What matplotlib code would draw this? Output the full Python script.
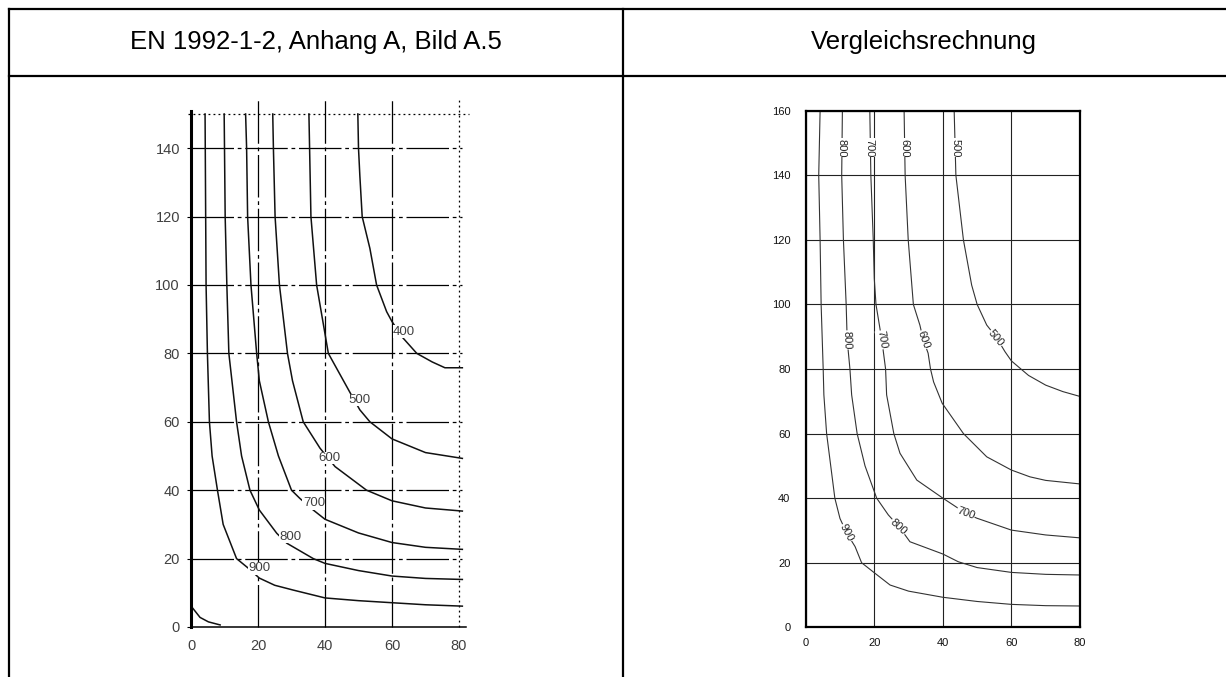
import numpy as np
import matplotlib.pyplot as plt
from matplotlib.lines import Line2D

plt.rcParams['font.family'] = ['Liberation Sans', 'DejaVu Sans']

# Kopfzeile der Tabelle
titles = ["EN 1992-1-2, Anhang A, Bild A.5", "Vergleichsrechnung"]

l900_x = [4.2, 4.5, 4.9, 5.5, 6.3, 7.9, 9.6, 13.6, 17.1, 20.4, 25, 30.5, 40, 50, 60, 70, 81]
l900_y = [150, 100, 80, 60, 50, 40, 30, 20, 17.2, 14.3, 12.2, 10.8, 8.5, 7.7, 7.1, 6.5, 6.1]
l800_x = [9.9, 10.2, 10.7, 11.3, 13.6, 15.1, 17.6, 20.4, 25.6, 28.6, 36.5, 40, 50, 60, 70, 81]
l800_y = [150, 120, 100, 80, 60, 50, 40, 34.2, 27.4, 24.5, 20, 18.6, 16.5, 14.9, 14.2, 13.9]
l700_x = [16.3, 16.6, 16.9, 17.9, 19.6, 20.4, 23.1, 26.1, 30, 32.5, 36.5, 40, 50, 60, 70, 81]
l700_y = [150, 140, 120, 100, 80, 72, 60, 50, 40, 37.6, 34.2, 31.5, 27.5, 24.7, 23.3, 22.7]
l600_x = [24.4, 24.6, 25.1, 26.4, 28.8, 30.3, 33.5, 38.5, 43, 52.4, 60, 70, 81]
l600_y = [150, 140, 120, 100, 80, 72, 60, 52.3, 46.9, 40, 36.9, 34.8, 33.9]
l500_x = [35.2, 35.4, 35.8, 37.5, 41, 47.5, 50.4, 53.4, 60, 70, 81]
l500_y = [150, 140, 120, 100, 80, 68.5, 63.5, 60, 55, 51, 49.3]
l400_x = [49.8, 50, 50.4, 51.1, 53.4, 55.4, 58.4, 60, 63.2, 67.4, 72, 75.8, 81]
l400_y = [150, 140, 132, 120, 110.7, 100, 92.2, 89.3, 84.6, 80, 77.5, 75.8, 75.8]
l1000_x = [0, 0.2, 2.7, 5.2, 8.7]
l1000_y = [8.4, 5.9, 2.8, 1.5, 0.6]

left_curves = [(l900_x, l900_y), (l800_x, l800_y), (l700_x, l700_y),
               (l600_x, l600_y), (l500_x, l500_y), (l400_x, l400_y),
               (l1000_x, l1000_y)]
left_labels = ["900", "800", "700", "600", "500", "400"]
left_lab_x = [20.3, 29.7, 36.7, 41.2, 50.3, 63.6]
left_lab_y = [17.2, 26.3, 36.2, 49.4, 66.4, 86.3]

# rechtes Bild (Vergleichsrechnung)
r900_x = [4.2, 3.8, 4.2, 4.5, 5.1, 5.3, 6.1, 8.5, 10, 12, 14.4, 16.3, 20, 24.6, 30, 40, 50, 60, 70, 80]
r900_y = [160, 140, 120, 100, 80, 72, 60, 40, 33.7, 29.1, 25, 20, 16.9, 13.1, 11.2, 9.3, 8, 7.1, 6.7, 6.6]
r800_x = [10.7, 10.5, 11, 11.8, 12.1, 12.9, 13.4, 15, 17.3, 20.7, 24.1, 27.2, 30.4, 40, 44.5, 50, 60, 70, 80]
r800_y = [160, 140, 120, 100, 89, 80, 72, 60, 50, 40, 34.8, 31.2, 26.5, 22.7, 20.3, 18.5, 17, 16.4, 16.2]
r700_x = [18.7, 19, 19.7, 20, 20.5, 22.2, 23.3, 23.6, 25.7, 27.5, 32.4, 40, 43, 46.7, 49.9, 60, 70, 80]
r700_y = [160, 140, 120, 108, 100, 89, 80, 72, 60, 53.9, 45.6, 40, 37.9, 35.3, 33.8, 30.1, 28.6, 27.7]
r600_x = [28.7, 29, 29.9, 31.4, 33.3, 34.3, 35.7, 36.4, 37.3, 39.8, 46, 52.8, 60, 65.4, 70, 80]
r600_y = [160, 140, 120, 100, 93.6, 89, 84.9, 80, 76, 69.4, 60, 52.8, 48.7, 46.6, 45.5, 44.4]
r500_x = [43.3, 43.8, 46, 48.4, 50, 52.8, 55.5, 58.1, 60, 65, 70, 75, 80]
r500_y = [160, 140, 120, 106, 100, 93.6, 90, 85.4, 82.5, 78, 75, 73, 71.5]

right_curves = [(r900_x, r900_y), (r800_x, r800_y), (r700_x, r700_y),
                (r600_x, r600_y), (r500_x, r500_y)]
right_labels = ["800", "700", "600", "500", "800", "700", "600", "500", "900", "800", "700"]
right_lab_x = [10.5, 18.6, 28.7, 43.7, 12.0, 22.1, 34.2, 55.4, 12.0, 27.1, 46.7]
right_lab_y = [148.5, 148.5, 148.5, 148.5, 89, 89, 89, 89.5, 29.3, 31.2, 35.3]
right_lab_rot = [-90, -90, -90, -90, -88, -80, -70, -50, -62, -42, -20]

W, H = 1226, 677
fig = plt.figure(figsize=(W / 100, H / 100), dpi=100)


def fx(px):
    return px / W


def fy(py):
    return 1 - py / H


# Tabellenrahmen
for xs, ys in [([9, W], [9, 9]), ([9, W], [76, 76]), ([9, 9], [9, H]), ([623, 623], [9, H])]:
    fig.add_artist(Line2D([fx(v) for v in xs], [fy(v) for v in ys],
                          transform=fig.transFigure, color='black', lw=1.6))
fig.text(fx(316), fy(42), titles[0], ha='center', va='center', fontsize=18.5)
fig.text(fx(924), fy(42), titles[1], ha='center', va='center', fontsize=18.5)

# ---- linkes Diagramm ----
ax1 = fig.add_axes([fx(191), 50 / H, 281.4 / W, 530.1 / H])
ax1.set_xlim(0, 84)
ax1.set_ylim(0, 155)
for s in ['top', 'right']:
    ax1.spines[s].set_visible(False)
ax1.spines['left'].set_linewidth(2.2)
ax1.spines['left'].set_bounds(0, 151)
ax1.spines['bottom'].set_linewidth(1.1)
ax1.spines['bottom'].set_bounds(0, 82)

dashdot = (0, (34, 3, 3, 3))
for yv in range(20, 141, 20):
    ax1.plot([0, 81], [yv, yv], color='black', lw=0.9, ls=dashdot, clip_on=False)
for xv in [20, 40, 60]:
    ax1.plot([xv, xv], [0, 154], color='black', lw=0.9, ls=dashdot, clip_on=False)
ax1.plot([80, 80], [0, 154], color='black', lw=0.9, ls=(0, (1.5, 2.5)), clip_on=False)
ax1.plot([-1, 83], [150, 150], color='black', lw=0.9, ls=(0, (1.5, 2.5)), clip_on=False)

for cx, cy in left_curves:
    ax1.plot(cx, cy, color='#111111', lw=1.1, clip_on=False)
for t, x, y in zip(left_labels, left_lab_x, left_lab_y):
    ax1.text(x, y, t, ha='center', va='center', fontsize=9.5, color='#404040',
             bbox=dict(fc='white', ec='none', pad=0.3))

ax1.set_xticks([0, 20, 40, 60, 80])
ax1.set_yticks(range(0, 141, 20))
ax1.tick_params(axis='y', length=3, width=0.8, pad=5, labelsize=10.5, labelcolor='#404040')
ax1.tick_params(axis='x', length=0, pad=9, labelsize=10.5, labelcolor='#404040')

# ---- rechtes Diagramm ----
ax2 = fig.add_axes([fx(805.7), 49.7 / H, 274.3 / W, 516.6 / H])
ax2.set_xlim(0, 80)
ax2.set_ylim(0, 160)
for s in ax2.spines.values():
    s.set_linewidth(1.6)
ax2.set_xticks([0, 20, 40, 60, 80])
ax2.set_yticks(range(0, 161, 20))
ax2.grid(True, color='#222222', lw=0.8)
ax2.set_axisbelow(True)
ax2.tick_params(length=0, labelsize=8, labelcolor='#111111')
ax2.tick_params(axis='y', pad=11)
ax2.tick_params(axis='x', pad=8)

for cx, cy in right_curves:
    ax2.plot(cx, cy, color='#333333', lw=0.8)
for t, x, y, r in zip(right_labels, right_lab_x, right_lab_y, right_lab_rot):
    ax2.text(x, y, t, ha='center', va='center', fontsize=8, rotation=r,
             rotation_mode='anchor', color='#222222',
             bbox=dict(fc='white', ec='none', pad=0.2))

fig.savefig('out.png', dpi=100)
